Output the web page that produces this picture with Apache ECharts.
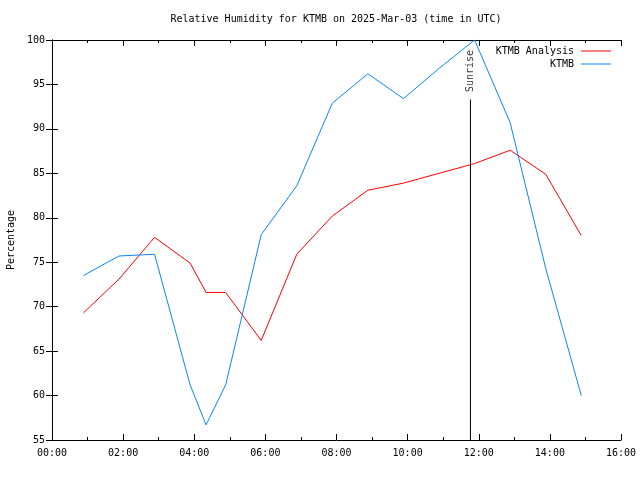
<!DOCTYPE html>
<html>
<head>
<meta charset="utf-8">
<script src="https://cdn.jsdelivr.net/npm/echarts@6/dist/echarts.min.js"></script>
<style>html,body{margin:0;padding:0;background:#fff}#c{width:640px;height:480px}</style>
</head>
<body>
<div id="c"></div>
<script>
const times = ["00:53","01:53","02:53","03:53","04:20","04:53","05:53","06:53","07:53","08:53","09:53","10:53","11:53","12:53","13:53","14:53"];
const analysisRH = [69.3, 73.1, 77.8, 74.9, 71.6, 71.6, 66.2, 75.9, 80.2, 83.1, 83.9, 85.0, 86.1, 87.6, 84.9, 78.0];
const observedRH = [73.5, 75.7, 75.9, 61.2, 56.7, 61.2, 78.1, 83.6, 92.9, 96.2, 93.4, 96.8, 100.0, 90.7, 74.3, 60.0];
const sunriseTime = "11:46";
const sunriseTop = 93.3;
const xTicks = ["00:00","02:00","04:00","06:00","08:00","10:00","12:00","14:00","16:00"];

const toH = s => { const p = s.split(':'); return +p[0] + (+p[1]) / 60; };
const FONT = 'DejaVu Sans Mono';
const chart = echarts.init(document.getElementById('c'), null, {renderer: 'canvas'});
const axisCommon = {
  axisLine: {show: true, lineStyle: {color: '#000', width: 1}},
  splitLine: {show: false}
};
const sr = toH(sunriseTime);
chart.setOption({
  animation: false,
  backgroundColor: '#fff',
  textStyle: {fontFamily: FONT, color: '#000'},
  graphic: [{
    type: 'text', x: 336, y: 19,
    style: {text: 'Relative Humidity for KTMB on 2025-Mar-03 (time in UTC)',
      align: 'center', verticalAlign: 'middle', fontFamily: FONT, fontSize: 10, fill: '#000'}
  }],
  legend: [
    {data: ['KTMB Analysis'], right: 24, top: 41, align: 'right', orient: 'vertical',
     itemWidth: 30, itemHeight: 1, itemGap: 4, icon: 'rect',
     textStyle: {fontFamily: FONT, fontSize: 10, color: '#000', padding: [0, 2, 0, 0]}},
    {data: ['KTMB'], right: 24, top: 54, align: 'right', orient: 'vertical',
     itemWidth: 30, itemHeight: 1, itemGap: 4, icon: 'rect',
     textStyle: {fontFamily: FONT, fontSize: 10, color: '#000', padding: [0, 2, 0, 0]}}
  ],
  grid: {left: 52, right: 19, top: 40, bottom: 40, containLabel: false, outerBoundsMode: 'none'},
  xAxis: [
    Object.assign({}, axisCommon, {
      type: 'value', min: 0, max: 16, interval: 2, position: 'bottom',
      axisTick: {show: true, inside: true, length: 6, lineStyle: {color: '#000'}},
      minorTick: {show: true, splitNumber: 2, length: 3, lineStyle: {color: '#000'}},
      axisLabel: {margin: 8, fontFamily: FONT, fontSize: 10, color: '#000',
        formatter: v => xTicks[Math.round(v / 2)]}
    }),
    Object.assign({}, axisCommon, {
      type: 'value', min: 0, max: 16, interval: 2, position: 'top',
      axisTick: {show: true, inside: true, length: 6, lineStyle: {color: '#000'}},
      minorTick: {show: true, splitNumber: 2, length: 3, lineStyle: {color: '#000'}},
      axisLabel: {show: false}
    })
  ],
  yAxis: [
    Object.assign({}, axisCommon, {
      type: 'value', min: 55, max: 100, interval: 5, position: 'left',
      name: 'Percentage', nameLocation: 'middle', nameGap: 35, nameRotate: 90,
      nameTextStyle: {fontFamily: FONT, fontSize: 10, color: '#000'},
      axisTick: {show: true, inside: true, length: 6, lineStyle: {color: '#000'}},
      axisLabel: {margin: 7, fontFamily: FONT, fontSize: 10, color: '#000'}
    }),
    Object.assign({}, axisCommon, {
      type: 'value', min: 55, max: 100, interval: 5, position: 'right',
      axisTick: {show: true, inside: true, length: 6, lineStyle: {color: '#000'}},
      axisLabel: {show: false}
    })
  ],
  series: [
    {name: 'KTMB Analysis', type: 'line', symbol: 'none', showSymbol: false,
     color: '#ff0000', lineStyle: {width: 1, color: '#ff0000'},
     data: times.map((t, i) => [toH(t), analysisRH[i]])},
    {name: 'KTMB', type: 'line', symbol: 'none', showSymbol: false,
     color: '#0a84ff', lineStyle: {width: 1, color: '#0a84ff'},
     data: times.map((t, i) => [toH(t), observedRH[i]])},
    {name: 'sunrise', type: 'line', symbol: 'none', showSymbol: false,
     lineStyle: {width: 1, color: '#000'}, silent: true,
     data: [[sr, 55], [sr, sunriseTop]]},
    {name: 'sunriseLabel', type: 'scatter', symbolSize: 1, itemStyle: {color: 'rgba(0,0,0,0)'}, silent: true,
     data: [[sr, sunriseTop]],
     label: {show: true, formatter: 'Sunrise', position: 'top', distance: 7, rotate: 90,
       align: 'left', verticalAlign: 'middle', fontFamily: FONT, fontSize: 10, color: '#000'}}
  ]
});
</script>
</body>
</html>
